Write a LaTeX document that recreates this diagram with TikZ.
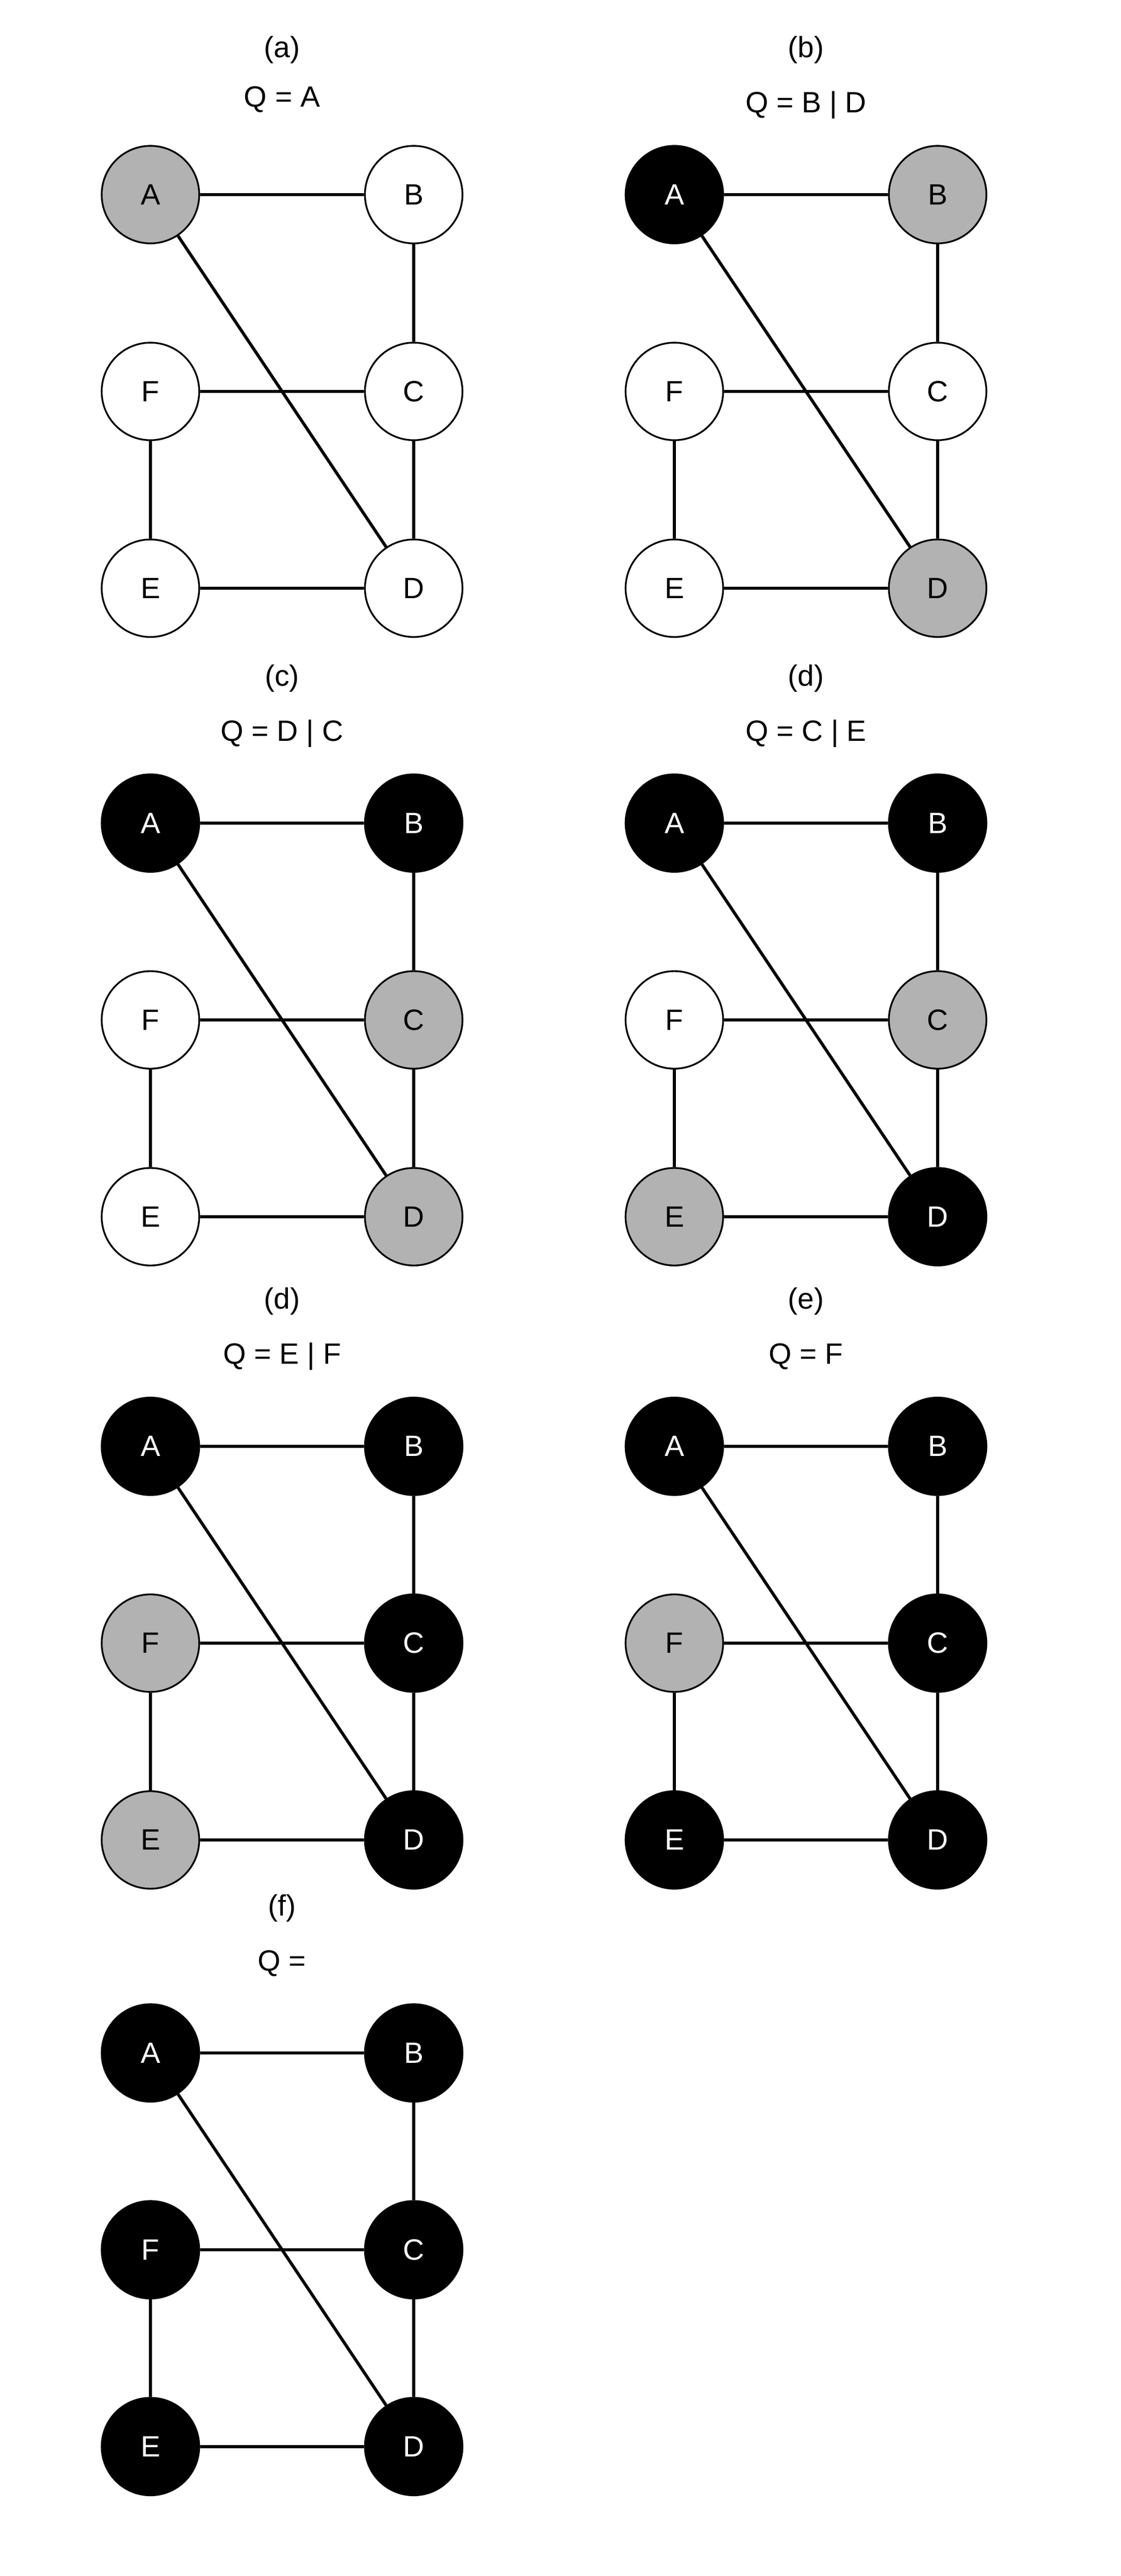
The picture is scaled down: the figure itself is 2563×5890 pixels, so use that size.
\documentclass[tikz,border=0pt]{standalone}
\usepackage{fontspec}
\setmainfont{Liberation Sans}
\usetikzlibrary{
    positioning,
    calc,
}
\newcommand{\graphfont}{\fontsize{19.1}{23}\selectfont}

\begin{document}
\begin{tikzpicture}[
    x=0.1mm, y=-0.1mm,
    node distance= 4.5cm and 6.02cm, on grid,
    vert/.style={draw, circle, line width=0.4mm, minimum size=2.23cm, inner sep=0pt, font=\graphfont},
    free/.style={vert, fill=white},
    queued/.style={vert, fill=black!30},
    visited/.style={vert, fill=black, text=white},
    link/.style={line width=0.7mm},
    caption/.style={anchor=base, font=\graphfont},
]

\useasboundingbox (0,0) rectangle (2563,5890);

% (a)
\node[queued] (aA) at (344,445) {A};
\node[free] (aB) [right=of aA] {B};
\node[free] (aC) [below=of aB] {C};
\node[free] (aD) [below=of aC] {D};
\node[free] (aF) [below=of aA] {F};
\node[free] (aE) [below=of aF] {E};
\node[caption] (aname) at ([yshift=3.14cm]$(aA)!0.5!(aB)$) {(a)};
\node[caption] (aquery) at ([yshift=2.01cm]$(aA)!0.5!(aB)$) {Q = A};
\draw[link] (aA) -- (aB) (aB) -- (aC) (aF) -- (aC) (aC) -- (aD) (aF) -- (aE) (aE) -- (aD) (aA) -- (aD);

% (b)
\node[visited] (bA) at (1542,445) {A};
\node[queued] (bB) [right=of bA] {B};
\node[free] (bC) [below=of bB] {C};
\node[queued] (bD) [below=of bC] {D};
\node[free] (bF) [below=of bA] {F};
\node[free] (bE) [below=of bF] {E};
\node[caption] (bname) at ([yshift=3.14cm]$(bA)!0.5!(bB)$) {(b)};
\node[caption] (bquery) at ([yshift=1.88cm]$(bA)!0.5!(bB)$) {Q = B | D};
\draw[link] (bA) -- (bB) (bB) -- (bC) (bF) -- (bC) (bC) -- (bD) (bF) -- (bE) (bE) -- (bD) (bA) -- (bD);

% (c)
\node[visited] (cA) at (344,1882) {A};
\node[visited] (cB) [right=of cA] {B};
\node[queued] (cC) [below=of cB] {C};
\node[queued] (cD) [below=of cC] {D};
\node[free] (cF) [below=of cA] {F};
\node[free] (cE) [below=of cF] {E};
\node[caption] (cname) at ([yshift=3.14cm]$(cA)!0.5!(cB)$) {(c)};
\node[caption] (cquery) at ([yshift=1.88cm]$(cA)!0.5!(cB)$) {Q = D | C};
\draw[link] (cA) -- (cB) (cB) -- (cC) (cF) -- (cC) (cC) -- (cD) (cF) -- (cE) (cE) -- (cD) (cA) -- (cD);

% (d), right
\node[visited] (dA) at (1542,1882) {A};
\node[visited] (dB) [right=of dA] {B};
\node[queued] (dC) [below=of dB] {C};
\node[visited] (dD) [below=of dC] {D};
\node[free] (dF) [below=of dA] {F};
\node[queued] (dE) [below=of dF] {E};
\node[caption] (dname) at ([yshift=3.14cm]$(dA)!0.5!(dB)$) {(d)};
\node[caption] (dquery) at ([yshift=1.88cm]$(dA)!0.5!(dB)$) {Q = C | E};
\draw[link] (dA) -- (dB) (dB) -- (dC) (dF) -- (dC) (dC) -- (dD) (dF) -- (dE) (dE) -- (dD) (dA) -- (dD);

% (d), left
\node[visited] (ddA) at (344,3307) {A};
\node[visited] (ddB) [right=of ddA] {B};
\node[visited] (ddC) [below=of ddB] {C};
\node[visited] (ddD) [below=of ddC] {D};
\node[queued] (ddF) [below=of ddA] {F};
\node[queued] (ddE) [below=of ddF] {E};
\node[caption] (ddname) at ([yshift=3.14cm]$(ddA)!0.5!(ddB)$) {(d)};
\node[caption] (ddquery) at ([yshift=1.88cm]$(ddA)!0.5!(ddB)$) {Q = E | F};
\draw[link] (ddA) -- (ddB) (ddB) -- (ddC) (ddF) -- (ddC) (ddC) -- (ddD) (ddF) -- (ddE) (ddE) -- (ddD) (ddA) -- (ddD);

% (e)
\node[visited] (eA) at (1542,3307) {A};
\node[visited] (eB) [right=of eA] {B};
\node[visited] (eC) [below=of eB] {C};
\node[visited] (eD) [below=of eC] {D};
\node[queued] (eF) [below=of eA] {F};
\node[visited] (eE) [below=of eF] {E};
\node[caption] (ename) at ([yshift=3.14cm]$(eA)!0.5!(eB)$) {(e)};
\node[caption] (equery) at ([yshift=1.88cm]$(eA)!0.5!(eB)$) {Q = F};
\draw[link] (eA) -- (eB) (eB) -- (eC) (eF) -- (eC) (eC) -- (eD) (eF) -- (eE) (eE) -- (eD) (eA) -- (eD);

% (f)
\node[visited] (fA) at (344,4694) {A};
\node[visited] (fB) [right=of fA] {B};
\node[visited] (fC) [below=of fB] {C};
\node[visited] (fD) [below=of fC] {D};
\node[visited] (fF) [below=of fA] {F};
\node[visited] (fE) [below=of fF] {E};
\node[caption] (fname) at ([yshift=3.14cm]$(fA)!0.5!(fB)$) {(f)};
\node[caption] (fquery) at ([yshift=1.88cm]$(fA)!0.5!(fB)$) {Q =};
\draw[link] (fA) -- (fB) (fB) -- (fC) (fF) -- (fC) (fC) -- (fD) (fF) -- (fE) (fE) -- (fD) (fA) -- (fD);

\end{tikzpicture}
\end{document}
